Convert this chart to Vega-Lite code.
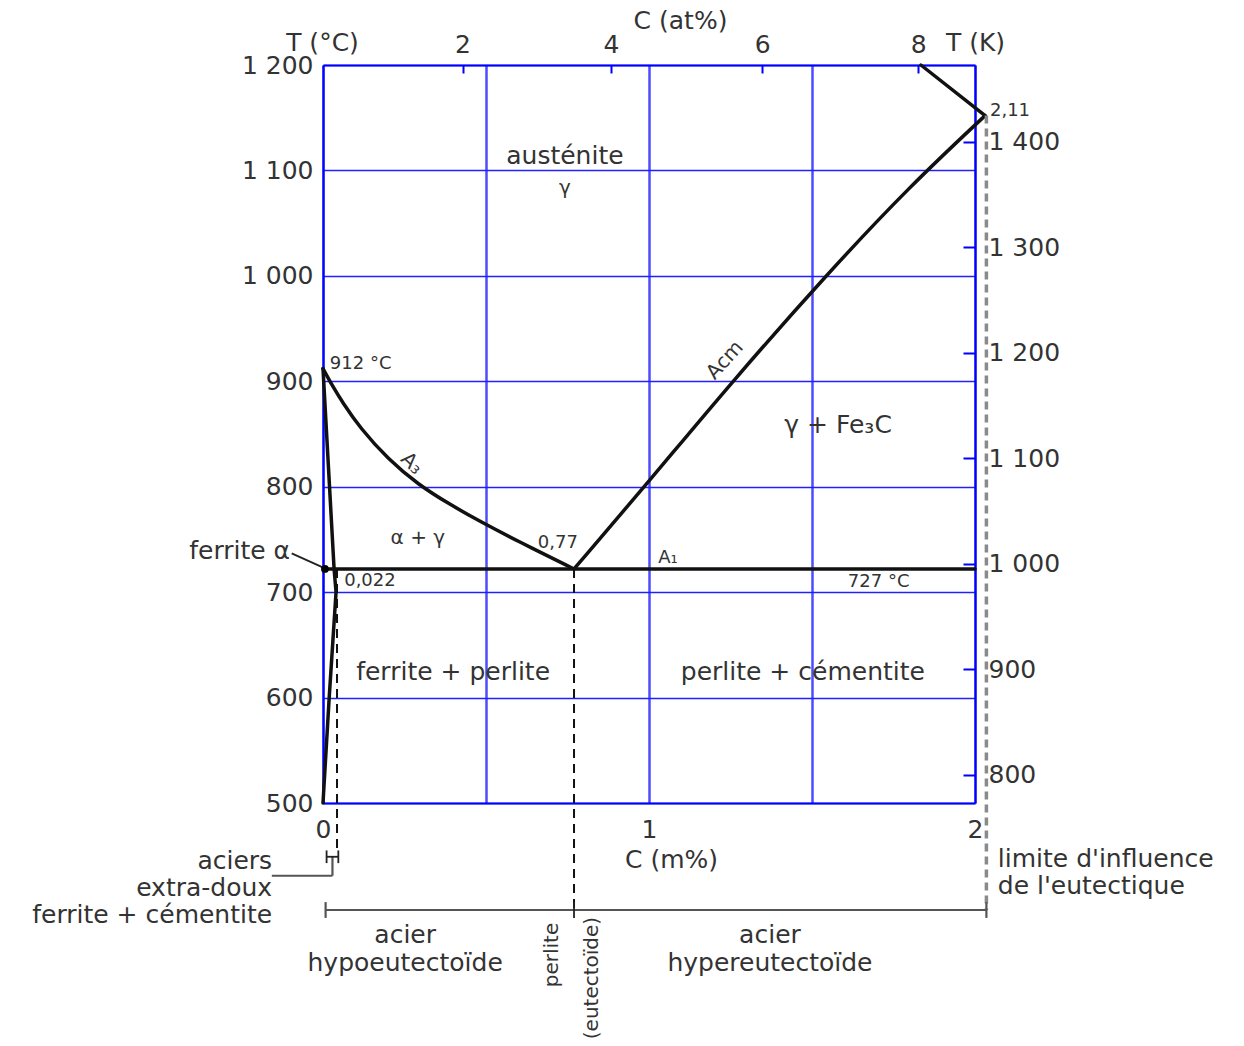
{
  "$schema": "https://vega.github.io/schema/vega-lite/v6.json",
  "width": 652,
  "height": 738,
  "autosize": {"type": "none"},
  "padding": {"left": 323, "top": 65, "right": 269, "bottom": 243},
  "background": "white",
  "config": {
    "view": {"stroke": null},
    "font": "DejaVu Sans",
    "axis": {
      "labelFont": "DejaVu Sans", "titleFont": "DejaVu Sans",
      "labelColor": "#333", "titleColor": "#333", "titleFontWeight": "normal",
      "domainColor": "#0000ff", "domainWidth": 2, "tickColor": "#0000ff", "tickWidth": 2,
      "labelFontSize": 25, "titleFontSize": 25, "labelFlush": false
    }
  },
  "datasets": {
    "curves": [
      {"line": "A3", "x": 0, "T": 912},
      {"line": "A3", "x": 0.03, "T": 895},
      {"line": "A3", "x": 0.06, "T": 880},
      {"line": "A3", "x": 0.113, "T": 856},
      {"line": "A3", "x": 0.2, "T": 826},
      {"line": "A3", "x": 0.292, "T": 802},
      {"line": "A3", "x": 0.39, "T": 783},
      {"line": "A3", "x": 0.482, "T": 767},
      {"line": "A3", "x": 0.6, "T": 748},
      {"line": "A3", "x": 0.77, "T": 722},
      {"line": "Acm", "x": 0.77, "T": 722},
      {"line": "Acm", "x": 1.0, "T": 805},
      {"line": "Acm", "x": 1.25, "T": 898},
      {"line": "Acm", "x": 1.55, "T": 1003},
      {"line": "Acm", "x": 1.8, "T": 1085},
      {"line": "Acm", "x": 2.031, "T": 1152}
    ],
    "poly": [
      {"line": "ferrite", "o": 0, "x": 0, "T": 912},
      {"line": "ferrite", "o": 1, "x": 0.034, "T": 722},
      {"line": "ferrite", "o": 2, "x": 0.04, "T": 700},
      {"line": "ferrite", "o": 3, "x": 0.019, "T": 600},
      {"line": "ferrite", "o": 4, "x": 0, "T": 500},
      {"line": "top", "o": 0, "x": 2.031, "T": 1152},
      {"line": "top", "o": 1, "x": 1.834, "T": 1200},
      {"line": "A1", "o": 0, "x": 0.006, "T": 722},
      {"line": "A1", "o": 1, "x": 2.0, "T": 722}
    ],
    "dashBlack": [
      {"x": 0.77, "T": 722, "T2": 398.5},
      {"x": 0.043, "T": 722, "T2": 455}
    ],
    "dashGrey": [
      {"x": 2.035, "T": 1152, "T2": 398.5}
    ],
    "segGrey": [
      {"x": 0.008, "x2": 2.035, "T": 398.5, "T2": 398.5},
      {"x": 0.008, "x2": 0.008, "T": 406, "T2": 391},
      {"x": 2.035, "x2": 2.035, "T": 406, "T2": 391},
      {"x": 0.029, "x2": 0.029, "T": 449, "T2": 431},
      {"x": 0.029, "x2": -0.157, "T": 431, "T2": 431}
    ],
    "segBlack": [
      {"x": 0.77, "x2": 0.77, "T": 406, "T2": 391},
      {"x": 0.011, "x2": 0.047, "T": 449, "T2": 449},
      {"x": 0.011, "x2": 0.011, "T": 455, "T2": 443},
      {"x": 0.047, "x2": 0.047, "T": 455, "T2": 443},
      {"x": -0.096, "x2": 0.006, "T": 736.8, "T2": 722.5}
    ],
    "dot": [{"x": 0.006, "T": 722}],
    "txtC": [
      {"t": "austénite", "x": 0.742, "T": 1114},
      {"t": "ferrite + perlite", "x": 0.399, "T": 624},
      {"t": "perlite + cémentite", "x": 1.472, "T": 624},
      {"t": "γ + Fe₃C", "x": 1.58, "T": 858.5},
      {"t": "acier", "x": 0.252, "T": 374.8},
      {"t": "hypoeutectoïde", "x": 0.252, "T": 348.3},
      {"t": "acier", "x": 1.371, "T": 374.8},
      {"t": "hypereutectoïde", "x": 1.371, "T": 348.3}
    ],
    "txtCs": [
      {"t": "γ", "x": 0.742, "T": 1083},
      {"t": "α + γ", "x": 0.291, "T": 751}
    ],
    "txtSmall": [
      {"t": "912 °C", "x": 0.021, "T": 916},
      {"t": "0,022", "x": 0.065, "T": 710.5},
      {"t": "0,77", "x": 0.659, "T": 747},
      {"t": "2,11", "x": 2.046, "T": 1156},
      {"t": "727 °C", "x": 1.61, "T": 709.6},
      {"t": "A₁", "x": 1.028, "T": 732}
    ],
    "txtL": [
      {"t": "limite d'influence", "x": 2.07, "T": 447},
      {"t": "de l'eutectique", "x": 2.07, "T": 421}
    ],
    "txtR": [
      {"t": "ferrite α", "x": -0.101, "T": 739},
      {"t": "aciers", "x": -0.156, "T": 445},
      {"t": "extra-doux", "x": -0.156, "T": 419.5},
      {"t": "ferrite + cémentite", "x": -0.156, "T": 394}
    ],
    "txtRot": [
      {"t": "perlite", "x": 0.702, "T": 355.8},
      {"t": "(eutectoïde)", "x": 0.825, "T": 334}
    ],
    "txtAcm": [{"t": "Acm", "x": 1.233, "T": 920}],
    "txtA3": [{"t": "A₃", "x": 0.272, "T": 822}]
  },
  "resolve": {"axis": {"x": "independent", "y": "independent"}},
  "layer": [
    {
      "data": {"name": "curves"},
      "mark": {"type": "line", "color": "#111", "strokeWidth": 3.5, "interpolate": "basis", "strokeCap": "round"},
      "encoding": {
        "x": {"field": "x", "type": "quantitative", "scale": {"domain": [0, 2], "nice": false, "zero": false},
          "axis": {"orient": "bottom", "values": [0, 0.5, 1, 1.5, 2], "labelExpr": "datum.value % 1 == 0 ? format(datum.value, 'd') : ''",
            "ticks": false, "labelPadding": 14, "grid": true, "gridColor": "#4d4dff", "gridWidth": 2.5,
            "title": "C (m%)", "titleX": 348, "titleY": 56, "titleAlign": "center", "titleBaseline": "middle"}},
        "y": {"field": "T", "type": "quantitative", "scale": {"domain": [500, 1200], "nice": false, "zero": false},
          "axis": {"orient": "left", "values": [500, 600, 700, 800, 900, 1000, 1100, 1200],
            "labelExpr": "replace(format(datum.value, ','), ',', ' ')", "ticks": false, "labelPadding": 10,
            "grid": true, "gridColor": "#2020ff", "gridWidth": 1.5,
            "title": "T (°C)", "titleAngle": 0, "titleX": -1, "titleY": -23, "titleAlign": "center", "titleBaseline": "middle"}},
        "detail": {"field": "line"}
      }
    },
    {
      "data": {"name": "dashBlack"},
      "mark": {"type": "rule", "color": "#111", "strokeWidth": 2, "strokeDash": [9, 6]},
      "encoding": {
        "x": {"field": "x", "type": "quantitative", "scale": {"domain": [0, 2], "nice": false, "zero": false},
          "axis": {"orient": "top", "values": [0.428, 0.883, 1.347, 1.826],
            "labelExpr": "datum.value < 0.6 ? '2' : datum.value < 1.1 ? '4' : datum.value < 1.6 ? '6' : '8'",
            "tickSize": -8, "labelPadding": 16, "grid": false,
            "title": "C (at%)", "titleX": 357, "titleY": -45, "titleAlign": "center", "titleBaseline": "middle"}},
        "y": {"field": "T", "type": "quantitative", "scale": {"domain": [500, 1200], "nice": false, "zero": false},
          "axis": {"orient": "right", "values": [527, 627, 727, 827, 927, 1027, 1127],
            "labelExpr": "replace(format(datum.value + 273, ','), ',', ' ')",
            "tickSize": -12, "labelPadding": 25, "grid": false,
            "title": "T (K)", "titleAngle": 0, "titleX": 0, "titleY": -23, "titleAlign": "center", "titleBaseline": "middle"}},
        "y2": {"field": "T2"}
      }
    },
    {
      "data": {"name": "poly"},
      "mark": {"type": "line", "color": "#111", "strokeWidth": 3.5, "strokeCap": "round"},
      "encoding": {
        "x": {"field": "x", "type": "quantitative", "scale": {"domain": [0, 2], "nice": false, "zero": false}, "axis": null},
        "y": {"field": "T", "type": "quantitative", "scale": {"domain": [500, 1200], "nice": false, "zero": false}, "axis": null},
        "detail": {"field": "line"},
        "order": {"field": "o", "type": "quantitative"}
      }
    },
    {
      "data": {"name": "dashGrey"},
      "mark": {"type": "rule", "color": "#8a8a8a", "strokeWidth": 3.5, "strokeDash": [8, 5]},
      "encoding": {
        "x": {"field": "x", "type": "quantitative", "scale": {"domain": [0, 2], "nice": false, "zero": false}, "axis": null},
        "y": {"field": "T", "type": "quantitative", "scale": {"domain": [500, 1200], "nice": false, "zero": false}, "axis": null},
        "y2": {"field": "T2"}
      }
    },
    {
      "data": {"name": "segGrey"},
      "mark": {"type": "rule", "color": "#555", "strokeWidth": 2.2},
      "encoding": {
        "x": {"field": "x", "type": "quantitative", "scale": {"domain": [0, 2], "nice": false, "zero": false}, "axis": null},
        "x2": {"field": "x2"},
        "y": {"field": "T", "type": "quantitative", "scale": {"domain": [500, 1200], "nice": false, "zero": false}, "axis": null},
        "y2": {"field": "T2"}
      }
    },
    {
      "data": {"name": "segBlack"},
      "mark": {"type": "rule", "color": "#222", "strokeWidth": 1.8},
      "encoding": {
        "x": {"field": "x", "type": "quantitative", "scale": {"domain": [0, 2], "nice": false, "zero": false}, "axis": null},
        "x2": {"field": "x2"},
        "y": {"field": "T", "type": "quantitative", "scale": {"domain": [500, 1200], "nice": false, "zero": false}, "axis": null},
        "y2": {"field": "T2"}
      }
    },
    {
      "data": {"name": "dot"},
      "mark": {"type": "circle", "color": "#000", "size": 60, "opacity": 1},
      "encoding": {
        "x": {"field": "x", "type": "quantitative", "scale": {"domain": [0, 2], "nice": false, "zero": false}, "axis": null},
        "y": {"field": "T", "type": "quantitative", "scale": {"domain": [500, 1200], "nice": false, "zero": false}, "axis": null}
      }
    },
    {
      "data": {"name": "txtC"},
      "mark": {"type": "text", "fontSize": 25, "color": "#333", "align": "center", "baseline": "middle"},
      "encoding": {
        "x": {"field": "x", "type": "quantitative", "scale": {"domain": [0, 2], "nice": false, "zero": false}, "axis": null},
        "y": {"field": "T", "type": "quantitative", "scale": {"domain": [500, 1200], "nice": false, "zero": false}, "axis": null},
        "text": {"field": "t"}
      }
    },
    {
      "data": {"name": "txtCs"},
      "mark": {"type": "text", "fontSize": 20, "color": "#333", "align": "center", "baseline": "middle"},
      "encoding": {
        "x": {"field": "x", "type": "quantitative", "scale": {"domain": [0, 2], "nice": false, "zero": false}, "axis": null},
        "y": {"field": "T", "type": "quantitative", "scale": {"domain": [500, 1200], "nice": false, "zero": false}, "axis": null},
        "text": {"field": "t"}
      }
    },
    {
      "data": {"name": "txtSmall"},
      "mark": {"type": "text", "fontSize": 18, "color": "#333", "align": "left", "baseline": "middle"},
      "encoding": {
        "x": {"field": "x", "type": "quantitative", "scale": {"domain": [0, 2], "nice": false, "zero": false}, "axis": null},
        "y": {"field": "T", "type": "quantitative", "scale": {"domain": [500, 1200], "nice": false, "zero": false}, "axis": null},
        "text": {"field": "t"}
      }
    },
    {
      "data": {"name": "txtL"},
      "mark": {"type": "text", "fontSize": 25, "color": "#333", "align": "left", "baseline": "middle"},
      "encoding": {
        "x": {"field": "x", "type": "quantitative", "scale": {"domain": [0, 2], "nice": false, "zero": false}, "axis": null},
        "y": {"field": "T", "type": "quantitative", "scale": {"domain": [500, 1200], "nice": false, "zero": false}, "axis": null},
        "text": {"field": "t"}
      }
    },
    {
      "data": {"name": "txtR"},
      "mark": {"type": "text", "fontSize": 25, "color": "#333", "align": "right", "baseline": "middle"},
      "encoding": {
        "x": {"field": "x", "type": "quantitative", "scale": {"domain": [0, 2], "nice": false, "zero": false}, "axis": null},
        "y": {"field": "T", "type": "quantitative", "scale": {"domain": [500, 1200], "nice": false, "zero": false}, "axis": null},
        "text": {"field": "t"}
      }
    },
    {
      "data": {"name": "txtRot"},
      "mark": {"type": "text", "fontSize": 20, "color": "#333", "align": "center", "baseline": "middle", "angle": -90},
      "encoding": {
        "x": {"field": "x", "type": "quantitative", "scale": {"domain": [0, 2], "nice": false, "zero": false}, "axis": null},
        "y": {"field": "T", "type": "quantitative", "scale": {"domain": [500, 1200], "nice": false, "zero": false}, "axis": null},
        "text": {"field": "t"}
      }
    },
    {
      "data": {"name": "txtAcm"},
      "mark": {"type": "text", "fontSize": 20, "color": "#333", "align": "center", "baseline": "middle", "angle": -48},
      "encoding": {
        "x": {"field": "x", "type": "quantitative", "scale": {"domain": [0, 2], "nice": false, "zero": false}, "axis": null},
        "y": {"field": "T", "type": "quantitative", "scale": {"domain": [500, 1200], "nice": false, "zero": false}, "axis": null},
        "text": {"field": "t"}
      }
    },
    {
      "data": {"name": "txtA3"},
      "mark": {"type": "text", "fontSize": 20, "color": "#333", "align": "center", "baseline": "middle", "angle": 44},
      "encoding": {
        "x": {"field": "x", "type": "quantitative", "scale": {"domain": [0, 2], "nice": false, "zero": false}, "axis": null},
        "y": {"field": "T", "type": "quantitative", "scale": {"domain": [500, 1200], "nice": false, "zero": false}, "axis": null},
        "text": {"field": "t"}
      }
    }
  ]
}
